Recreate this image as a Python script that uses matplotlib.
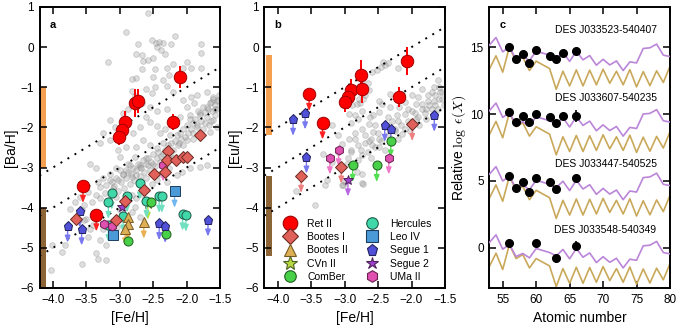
import numpy as np
import matplotlib
matplotlib.use("Agg")
import matplotlib.pyplot as plt
from matplotlib.lines import Line2D
from matplotlib.patches import Rectangle

plt.rcParams['font.family'] = ['Liberation Sans', 'DejaVu Sans']
plt.rcParams['mathtext.fontset'] = 'cm'
plt.rcParams['axes.linewidth'] = 1.4
plt.rcParams['xtick.direction'] = 'in'
plt.rcParams['ytick.direction'] = 'in'
plt.rcParams['xtick.major.size'] = 5
plt.rcParams['ytick.major.size'] = 5
plt.rcParams['xtick.major.width'] = 1.1
plt.rcParams['ytick.major.width'] = 1.1

# ---------------- background halo stars ([Fe/H], [Ba/H])
bg_a = [(-2.57, 0.84), (-2.91, 0.37), (-3.17, -0.38), (-2.72, 0.07), (-2.52, 0.19), (-2.46, 0.11),
        (-2.41, 0.14), (-2.35, 0.11), (-2.45, 0.01), (-2.39, -0.07), (-2.33, -0.17), (-2.75, -0.16),
        (-2.65, -0.34), (-2.57, -0.31), (-2.50, -0.28), (-2.66, -0.20), (-2.23, 0.09), (-2.17, 0.28),
        (-1.79, 0.09), (-1.79, -0.14), (-1.99, -0.36), (-2.20, -0.43), (-2.05, -0.53), (-1.93, -0.53),
        (-1.78, -0.53), (-2.67, -0.55), (-2.48, -0.55), (-2.30, -0.53), (-2.81, -0.80), (-2.75, -0.78),
        (-2.50, -0.74), (-2.35, -0.82), (-2.27, -0.70), (-2.60, -1.05), (-2.52, -1.15), (-2.47, -1.00),
        (-2.30, -0.97), (-2.20, -1.11), (-2.06, -1.32), (-1.94, -1.25), (-1.85, -1.19), (-1.70, -1.11),
        (-1.60, -1.24), (-1.53, -1.32), (-2.82, -1.09), (-2.77, -1.22), (-2.66, -1.40), (-2.55, -1.49),
        (-2.45, -1.59), (-2.30, -1.53), (-2.87, -1.55), (-2.95, -1.65), (-2.60, -1.73), (-2.00, -1.49),
        (-1.89, -1.40), (-1.80, -1.65), (-1.70, -1.49), (-1.63, -1.36), (-1.58, -1.53), (-3.15, -1.82),
        (-3.07, -1.98), (-3.25, -2.13), (-3.30, -2.40), (-3.45, -2.90), (-3.15, -2.32), (-2.80, -2.15),
        (-2.70, -1.98), (-2.55, -1.86), (-2.45, -1.97), (-2.33, -2.03), (-2.40, -2.15), (-2.25, -2.19),
        (-2.10, -1.73), (-1.95, -1.78), (-1.85, -1.94), (-1.73, -1.90), (-1.60, -1.82), (-1.55, -1.98),
        (-1.65, -2.11), (-1.90, -2.15), (-2.00, -2.32), (-2.12, -2.40), (-2.75, -2.48), (-2.65, -2.32),
        (-2.55, -2.44), (-2.45, -2.52), (-2.35, -2.65), (-2.77, -2.73), (-2.87, -2.90), (-2.70, -2.94),
        (-2.99, -2.73), (-2.60, -2.77), (-2.50, -2.90), (-2.90, -2.48), (-3.02, -2.57),
        (-4.03, -5.54), (-3.87, -5.10), (-4.02, -4.94), (-3.82, -4.94), (-3.54, -4.31), (-3.45, -4.52),
        (-3.48, -4.73), (-3.57, -5.41), (-3.35, -5.14), (-3.32, -5.27), (-3.20, -5.31), (-3.20, -4.94),
        (-3.30, -4.81), (-3.25, -4.52), (-3.40, -4.44), (-3.35, -3.01), (-3.35, -3.69), (-3.30, -3.77),
        (-3.22, -3.63), (-3.30, -3.48), (-3.20, -3.44), (-3.15, -3.31), (-3.10, -3.50), (-3.02, -3.58),
        (-3.05, -3.73), (-2.94, -3.85), (-2.82, -3.69), (-2.75, -3.77), (-2.67, -3.65), (-3.00, -4.06),
        (-2.82, -4.10), (-2.77, -3.98), (-2.70, -4.23), (-2.97, -4.27), (-3.04, -4.48), (-3.02, -3.31),
        (-2.95, -3.19), (-2.90, -3.06), (-2.82, -3.23), (-2.75, -3.19), (-2.70, -3.36), (-2.60, -3.27),
        (-2.52, -3.40), (-2.45, -3.31), (-2.30, -3.36), (-2.15, -3.19), (-2.07, -3.11), (-1.95, -3.02),
        (-1.80, -2.98), (-1.70, -2.94), (-2.40, -3.15), (-2.27, -3.02), (-2.85, -2.94), (-2.70, -2.98),
        (-2.57, -2.94), (-3.05, -3.02), (-3.15, -3.15), (-3.25, -3.27), (-3.32, -3.36), (-3.47, -3.61),
        (-3.59, -3.73), (-3.67, -3.85), (-3.74, -4.02), (-3.54, -3.94), (-3.42, -3.85), (-3.50, -4.27),
        (-3.57, -4.06),
        (-1.55, -1.35), (-1.58, -1.45), (-1.62, -1.60), (-1.57, -1.70), (-1.65, -1.40), (-1.68, -1.55),
        (-1.70, -1.75), (-1.72, -1.62), (-1.75, -1.50), (-1.78, -1.85), (-1.80, -1.70), (-1.83, -1.60),
        (-1.85, -2.00), (-1.88, -1.78), (-1.90, -1.90), (-1.93, -2.05), (-1.95, -1.70), (-1.98, -2.15),
        (-2.00, -1.95), (-2.03, -2.25), (-2.05, -2.05), (-2.08, -2.30), (-2.10, -2.15), (-2.13, -2.45),
        (-2.15, -2.20), (-2.18, -2.35), (-2.20, -2.55), (-2.23, -2.40), (-2.25, -2.65), (-2.28, -2.45),
        (-2.30, -2.75), (-2.33, -2.55), (-2.35, -2.40), (-2.38, -2.70), (-2.40, -2.85), (-2.43, -2.60),
        (-2.45, -2.75), (-2.48, -2.95), (-2.50, -2.65), (-2.53, -2.85), (-2.55, -3.05), (-2.58, -2.75),
        (-2.60, -2.90), (-2.63, -3.10), (-2.65, -2.80), (-2.68, -3.00), (-2.70, -3.20), (-2.73, -2.90),
        (-2.75, -3.05), (-2.78, -3.30), (-2.80, -3.00), (-2.83, -3.15), (-2.85, -3.40), (-2.88, -3.10),
        (-2.90, -3.25), (-2.93, -3.50), (-2.95, -3.15), (-2.98, -3.35), (-3.00, -3.05), (-3.05, -3.25),
        (-3.08, -3.45), (-3.12, -3.35), (-1.52, -1.20), (-1.55, -1.55), (-1.60, -1.30), (-1.63, -1.85),
        (-1.67, -1.95), (-1.75, -2.05), (-1.90, -2.30), (-2.05, -2.45), (-2.20, -2.75), (-2.35, -2.90)]

# ---------------- background halo stars ([Fe/H], [Eu/H])
bg_b = [(-2.42, -0.36), (-2.35, -0.40), (-2.20, -0.53), (-2.45, -0.49), (-2.59, -0.61), (-2.52, -0.57),
        (-2.39, -0.45), (-2.72, -1.30), (-2.77, -1.38), (-2.65, -0.90), (-2.74, -0.83), (-2.79, -0.98),
        (-2.64, -1.08), (-2.69, -1.20), (-2.79, -1.29), (-2.81, -1.41), (-2.89, -1.45), (-2.94, -1.66),
        (-2.84, -1.70), (-2.74, -1.58), (-2.62, -1.74), (-2.58, -1.70), (-2.48, -1.62), (-2.63, -1.91),
        (-2.74, -2.03), (-2.84, -2.14), (-2.94, -2.28), (-3.04, -2.42), (-3.19, -1.95), (-2.57, -2.12),
        (-2.48, -2.28), (-2.63, -2.33), (-2.29, -1.83), (-2.21, -1.70), (-2.09, -1.66), (-1.99, -1.58),
        (-1.94, -1.41), (-1.84, -1.41), (-1.79, -1.54), (-1.74, -1.45), (-1.67, -1.33), (-1.59, -1.29),
        (-1.57, -1.12), (-1.59, -1.00), (-1.69, -1.12), (-1.84, -1.04), (-1.99, -1.20), (-2.09, -1.37),
        (-2.19, -1.49), (-1.94, -1.78), (-1.79, -1.78), (-1.67, -1.70), (-1.89, -1.95), (-2.02, -2.08),
        (-2.14, -2.16), (-2.24, -2.03), (-2.32, -1.49), (-2.44, -1.41), (-2.49, -1.33), (-2.32, -1.16),
        (-2.14, -1.16), (-1.60, -0.82), (-1.67, -0.99), (-1.55, -1.11),
        (-3.32, -2.65), (-2.91, -2.57), (-2.74, -2.69), (-2.59, -2.44), (-2.49, -2.48), (-2.69, -2.40),
        (-3.04, -2.98), (-2.97, -2.90), (-2.74, -3.15), (-2.74, -3.38), (-3.04, -3.44), (-2.99, -3.36),
        (-3.72, -3.58), (-3.44, -3.94), (-3.19, -2.86), (-3.27, -3.31), (-3.29, -3.44), (-3.02, -3.44),
        (-2.82, -3.11), (-2.72, -3.40),
        (-2.85, -2.30), (-2.80, -2.45), (-2.75, -2.55), (-2.70, -2.20), (-2.65, -2.60), (-2.60, -2.30),
        (-2.55, -2.50), (-2.50, -2.15), (-2.45, -2.35), (-2.40, -2.55), (-2.35, -2.20), (-2.30, -2.40),
        (-2.25, -2.10), (-2.20, -2.30), (-2.15, -1.95), (-2.10, -2.05), (-2.05, -1.85), (-2.00, -1.95),
        (-1.95, -1.65), (-1.90, -1.75), (-1.85, -1.55), (-1.80, -1.65), (-1.75, -1.35), (-1.70, -1.55),
        (-1.65, -1.45), (-1.60, -1.55), (-1.55, -1.30), (-1.52, -1.45), (-2.90, -2.60), (-2.95, -2.75),
        (-2.80, -2.80), (-2.60, -2.75), (-2.40, -2.00), (-2.55, -1.95), (-2.35, -1.75), (-2.20, -1.85),
        (-2.05, -1.55), (-1.90, -1.25), (-1.75, -1.20), (-1.65, -1.20), (-3.10, -2.60), (-3.10, -2.20),
        (-2.90, -1.90), (-2.80, -1.80)]

# ---------------- Ret II
ret_feh_a = [-2.10, -2.77, -2.72, -2.92, -2.97, -3.01, -2.20]
ret_ba = [-0.74, -1.40, -1.34, -1.86, -2.07, -2.23, -1.86]
ret_ba_err = [0.27, 0.35, 0.30, 0.28, 0.20, 0.22, 0.20]
ret_lim_feh_a = [-3.55, -3.35]
ret_lim_ba = [-3.46, -4.17]
ret_feh_b = [-2.07, -2.76, -2.90, -2.74, -2.95, -3.00, -2.19]
ret_eu = [-0.34, -0.70, -1.07, -1.05, -1.25, -1.36, -1.25]
ret_eu_err = [0.35, 0.38, 0.28, 0.35, 0.30, 0.25, 0.25]
ret_lim_feh_b = [-3.53, -3.33]
ret_lim_eu = [-1.17, -1.88]

# ---------------- other ultra-faint dwarfs, panel a ([Ba/H]); lim = upper limit
boo1_feh_a = [-1.80, -2.28, -2.29, -2.16, -2.05, -1.99, -2.33, -2.49, -2.64, -2.92, -3.06, -3.65]
boo1_ba = [-2.19, -2.59, -2.82, -2.82, -2.73, -2.73, -3.11, -3.15, -3.55, -3.84, -4.31, -4.29]
boo1_ba_lim = [False] * 12
boo2_feh_a = [-2.87, -2.88, -2.92, -2.64]
boo2_ba = [-4.22, -4.40, -4.52, -4.35]
boo2_ba_lim = [True, True, True, True]
cvn2_feh_a = [-2.58]
cvn2_ba = [-3.88]
cvn2_ba_lim = [True]
comb_feh_a = [-2.53, -2.88, -2.31]
comb_ba = [-3.87, -4.82, -4.66]
comb_ba_lim = [False, False, False]
her_feh_a = [-2.70, -3.12, -2.89, -3.17, -2.60, -2.41, -2.37, -2.06, -2.01, -2.95, -3.17]
her_ba = [-3.38, -3.63, -3.70, -3.86, -3.84, -3.71, -3.71, -4.15, -4.18, -4.20, -4.44]
her_ba_lim = [True] * 11
leo4_feh_a = [-2.18, -3.10]
leo4_ba = [-3.58, -4.69]
leo4_ba_lim = [True, False]
seg1_feh_a = [-3.60, -3.78, -3.57, -2.41, -2.32, -1.68]
seg1_ba = [-4.07, -4.45, -4.52, -4.39, -4.46, -4.30]
seg1_ba_lim = [True] * 6
seg2_feh_a = [-2.97]
seg2_ba = [-3.99]
seg2_ba_lim = [False]
uma2_feh_a = [-2.35, -3.23, -3.11]
uma2_ba = [-2.93, -4.40, -4.46]
uma2_ba_lim = [True, False, False]

# ---------------- panel b ([Eu/H]), all upper limits
boo1_feh_b = [-1.99, -3.65, -3.05]
boo1_eu = [-1.92, -3.21, -2.98]
comb_feh_b = [-2.31, -2.88, -2.52]
comb_eu = [-2.33, -2.94, -2.94]
seg1_feh_b = [-3.77, -3.59, -2.40, -2.31, -1.66, -3.57]
seg1_eu = [-1.79, -1.63, -1.94, -2.04, -1.69, -2.73]
seg2_feh_b = [-2.95]
seg2_eu = [-3.30]
uma2_feh_b = [-3.09, -3.22, -2.34]
uma2_eu = [-2.55, -2.75, -2.75]

# ---------------- panel c: abundance patterns
Z_pattern = [53, 54, 55, 56, 57, 58, 59, 60, 62, 63, 64, 65, 66, 67, 68, 69, 70, 71, 72, 73,
             74, 75, 76, 77, 78, 79, 80]
r_pattern = [0.0, 0.57, -0.50, -0.15, -1.05, -0.82, -1.15, -0.45, -0.75, -1.00, -0.52, -1.22,
             -0.45, -1.10, -0.78, -1.50, -1.06, -1.48, -1.18, -1.90, -1.25, -1.33, -0.25, -0.20,
             0.08, -0.75, -0.85]
s_pattern = [-1.65, -0.65, -1.87, 0.0, -1.05, -0.75, -1.75, -1.05, -1.60, -3.15, -1.80, -2.90,
             -1.70, -2.90, -1.72, -2.82, -1.65, -2.70, -1.80, -2.82, -1.68, -2.97, -1.83, -2.88,
             -1.77, -2.64, -1.43]
star_names = ["DES J033523-540407", "DES J033607-540235", "DES J033447-540525", "DES J033548-540349"]
star_offsets = [15.15, 10.25, 5.5, 0.4]
star_label_y = [16.3, 11.2, 6.25, 1.3]
star1_Z = [56, 57, 58, 59, 60, 62, 63, 64, 66]
star1_eps = [15.0, 14.13, 14.45, 13.84, 14.75, 14.33, 14.13, 14.53, 14.70]
star1_err = [0.12, 0.12, 0.15, 0.15, 0.15, 0.12, 0.12, 0.15, 0.2]
star2_Z = [56, 57, 58, 59, 60, 62, 63, 64, 66]
star2_eps = [10.12, 9.38, 9.83, 9.38, 10.0, 9.75, 9.31, 9.88, 9.88]
star2_err = [0.12, 0.12, 0.1, 0.2, 0.12, 0.1, 0.12, 0.12, 0.45]
star3_Z = [56, 57, 58, 59, 60, 62, 63, 66]
star3_eps = [5.38, 4.50, 4.93, 4.18, 5.25, 4.93, 4.43, 5.20]
star3_err = [0.12, 0.1, 0.1, 0.12, 0.12, 0.1, 0.12, 0.12]
star4_Z = [56, 60, 63, 66]
star4_eps = [0.33, 0.33, -0.75, 0.13]
star4_err = [0.1, 0.1, 0.12, 0.35]

# marker styles
STY = {
    'Ret II': dict(marker='o', fc='#ff0000', ec='#a00000', ms=9, ac='#ff2020'),
    'Bootes I': dict(marker='D', fc='#e0605a', ec='#6a2a22', ms=6, ac='#ee8080'),
    'Bootes II': dict(marker='^', fc='#ddb055', ec='#7a5a25', ms=6.5, ac='#e8b050'),
    'CVn II': dict(marker='*', fc='#b8d840', ec='#4a6020', ms=8.5, ac='#b0e040'),
    'ComBer': dict(marker='o', fc='#48d048', ec='#1e5e1e', ms=6.5, ac='#50e050'),
    'Hercules': dict(marker='o', fc='#40d8a8', ec='#1e5a48', ms=6.5, ac='#70e0c0'),
    'Leo IV': dict(marker='s', fc='#4a9ad8', ec='#1e3e60', ms=6.5, ac='#70b8f0'),
    'Segue 1': dict(marker='p', fc='#5050d8', ec='#20205a', ms=6.5, ac='#7878f0'),
    'Segue 2': dict(marker='*', fc='#a040d0', ec='#50205a', ms=7.5, ac='#b868e0'),
    'UMa II': dict(marker='h', fc='#e050b0', ec='#6a2050', ms=6.5, ac='#f078c8'),
}


def draw(ax, name, x, y, lim=None, arrow_len=0.42, z=4):
    st = STY[name]
    if lim is None:
        lim = [False] * len(x)
    for xi, yi, li in zip(x, y, lim):
        if li:
            ax.annotate('', xy=(xi, yi - arrow_len), xytext=(xi, yi),
                        arrowprops=dict(arrowstyle='-|>,head_length=0.4,head_width=0.16',
                                        color=st['ac'], lw=1.0, shrinkA=0, shrinkB=0),
                        zorder=z - 1)
    ax.plot(x, y, ls='none', marker=st['marker'], mfc=st['fc'], mec=st['ec'],
            ms=st['ms'], mew=0.7, zorder=z)


def style_metal_axis(ax):
    ax.set_xlim(-4.2, -1.5)
    ax.set_ylim(-6, 1)
    ax.set_xticks(np.arange(-4.0, -1.49, 0.5))
    ax.set_yticks(np.arange(-6, 1.1, 1))
    ax.set_xticklabels(['\u22124.0', '\u22123.5', '\u22123.0', '\u22122.5', '\u22122.0', '\u22121.5'])
    ax.set_yticklabels(['\u22126', '\u22125', '\u22124', '\u22123', '\u22122', '\u22121', '0', '1'])
    ax.tick_params(top=True, right=True, labelsize=8.5, pad=4)
    ax.set_xlabel('[Fe/H]', fontsize=10, labelpad=4)


fig = plt.figure(figsize=(6.78, 3.27), dpi=100)
ax_a = fig.add_axes([0.0583, 0.1193, 0.2662, 0.8593])
ax_b = fig.add_axes([0.3898, 0.1193, 0.2665, 0.8593])
ax_c = fig.add_axes([0.7217, 0.1193, 0.2665, 0.8593])

orange = '#f5a050'
brown = '#8c6436'
dot_style = dict(color='k', ls=(0, (1, 3.2)), lw=1.4, zorder=2)
feh_line = np.array([-4.2, -1.5])
bg_face = (0.58, 0.58, 0.58, 0.3)
bg_edge = (0.5, 0.5, 0.5, 0.35)

# ---------- panel a
ax = ax_a
bx, by = zip(*bg_a)
ax.scatter(bx, by, s=17, facecolor=bg_face, edgecolor=bg_edge, lw=0.6, zorder=1)
for c in [1, 0, -1]:
    ax.plot(feh_line, feh_line + c, **dot_style)
ax.add_patch(Rectangle((-4.2, -3), 0.1, 2, color=orange, lw=0, zorder=1.5))
ax.add_patch(Rectangle((-4.2, -6), 0.1, 2, color=brown, lw=0, zorder=1.5))
draw(ax, 'CVn II', cvn2_feh_a, cvn2_ba, cvn2_ba_lim, z=3)
draw(ax, 'Hercules', her_feh_a, her_ba, her_ba_lim)
draw(ax, 'Bootes II', boo2_feh_a, boo2_ba, boo2_ba_lim)
draw(ax, 'ComBer', comb_feh_a, comb_ba, comb_ba_lim)
draw(ax, 'Leo IV', leo4_feh_a, leo4_ba, leo4_ba_lim)
draw(ax, 'Segue 1', seg1_feh_a, seg1_ba, seg1_ba_lim)
draw(ax, 'Segue 2', seg2_feh_a, seg2_ba, seg2_ba_lim)
draw(ax, 'UMa II', uma2_feh_a, uma2_ba, uma2_ba_lim)
draw(ax, 'Bootes I', boo1_feh_a, boo1_ba, boo1_ba_lim, z=5)
ax.errorbar(ret_feh_a, ret_ba, yerr=ret_ba_err, fmt='none', ecolor='#ff0000', elinewidth=1.4,
            capsize=0, zorder=5)
draw(ax, 'Ret II', ret_feh_a, ret_ba, z=6)
draw(ax, 'Ret II', ret_lim_feh_a, ret_lim_ba, [True, True], z=6)
style_metal_axis(ax)
ax.set_ylabel('[Ba/H]', fontsize=10, labelpad=2)
ax.text(0.055, 0.955, 'a', transform=ax.transAxes, fontsize=8, fontweight='bold', va='top')

# ---------- panel b
ax = ax_b
bx, by = zip(*bg_b)
ax.scatter(bx, by, s=17, facecolor=bg_face, edgecolor=bg_edge, lw=0.6, zorder=1)
for c in [2, 1, 0]:
    ax.plot(feh_line, feh_line + c, **dot_style)
ax.add_patch(Rectangle((-4.18, -2.2), 0.1, 2, color=orange, lw=0, zorder=1.5))
ax.add_patch(Rectangle((-4.18, -5.2), 0.1, 2, color=brown, lw=0, zorder=1.5))
draw(ax, 'Segue 1', seg1_feh_b, seg1_eu, [True] * len(seg1_eu))
draw(ax, 'UMa II', uma2_feh_b, uma2_eu, [True] * len(uma2_eu))
draw(ax, 'ComBer', comb_feh_b, comb_eu, [True] * len(comb_eu))
draw(ax, 'Segue 2', seg2_feh_b, seg2_eu, [True])
draw(ax, 'Bootes I', boo1_feh_b, boo1_eu, [True] * len(boo1_eu), z=5)
ax.errorbar(ret_feh_b, ret_eu, yerr=ret_eu_err, fmt='none', ecolor='#ff0000', elinewidth=1.4,
            capsize=0, zorder=5)
draw(ax, 'Ret II', ret_feh_b, ret_eu, z=6)
draw(ax, 'Ret II', ret_lim_feh_b, ret_lim_eu, [True, True], z=6)
style_metal_axis(ax)
ax.set_ylabel('[Eu/H]', fontsize=10, labelpad=2)
ax.text(0.055, 0.955, 'b', transform=ax.transAxes, fontsize=8, fontweight='bold', va='top')

order = ['Ret II', 'Bootes I', 'Bootes II', 'CVn II', 'ComBer',
         'Hercules', 'Leo IV', 'Segue 1', 'Segue 2', 'UMa II']
handles = []
for name in order:
    st = STY[name]
    ms = st['ms'] + (1.5 if name == 'Ret II' else 1.8)
    handles.append(Line2D([], [], ls='none', marker=st['marker'], mfc=st['fc'], mec=st['ec'],
                          ms=ms, mew=0.8, label=name))
ax.legend(handles=handles, ncol=2, loc='lower left', bbox_to_anchor=(0.06, -0.005),
          frameon=False, fontsize=7.5, labelspacing=0.32, handlelength=1.4,
          handletextpad=1.0, columnspacing=1.6, borderaxespad=0.3)

# ---------- panel c
ax = ax_c
stars = [(star1_Z, star1_eps, star1_err), (star2_Z, star2_eps, star2_err),
         (star3_Z, star3_eps, star3_err), (star4_Z, star4_eps, star4_err)]
rp = np.array(r_pattern)
sp = np.array(s_pattern)
for (zz, ee, er), off, name, ly in zip(stars, star_offsets, star_names, star_label_y):
    ba_level = off + rp[Z_pattern.index(56)]
    ax.plot(Z_pattern, sp + ba_level, color='#c9a85a', lw=1.2, zorder=2)
    ax.plot(Z_pattern, rp + off, color='#bb85d8', lw=1.2, zorder=3)
    ax.errorbar(zz, ee, yerr=er, fmt='o', color='k', ms=5.5, elinewidth=1.2, capsize=0, zorder=4)
    ax.text(78, ly, name, ha='right', va='center', fontsize=7.5)
ax.set_xlim(53, 80)
ax.set_ylim(-3, 18)
ax.set_xticks([55, 60, 65, 70, 75, 80])
ax.set_yticks([0, 5, 10, 15])
ax.tick_params(top=True, right=True, labelsize=8.5, pad=4)
ax.set_xlabel('Atomic number', fontsize=10, labelpad=4)
ax.set_ylabel(r'Relative $\log\ \epsilon(X)$', fontsize=10, labelpad=2)
ax.text(0.055, 0.955, 'c', transform=ax.transAxes, fontsize=8, fontweight='bold', va='top')

fig.savefig('out.png', dpi=100)
